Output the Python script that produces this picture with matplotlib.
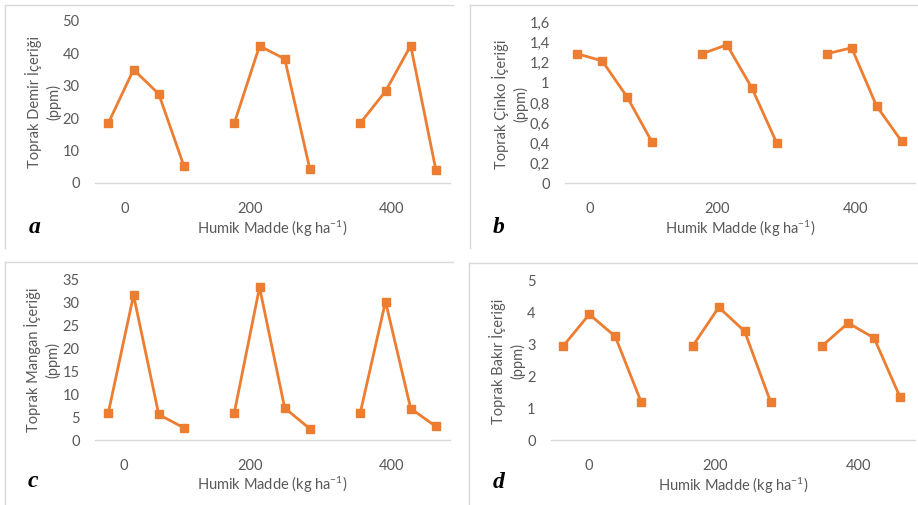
import matplotlib
matplotlib.use("Agg")
import matplotlib.pyplot as plt
from matplotlib.lines import Line2D

# ---------------- data ----------------
humik_levels = ["0", "200", "400"]
demir = [[18.5, 35.0, 27.5, 5.2], [18.5, 42.3, 38.3, 4.2], [18.5, 28.3, 42.4, 4.0]]
cinko = [[1.29, 1.22, 0.86, 0.41], [1.29, 1.38, 0.95, 0.40], [1.29, 1.35, 0.77, 0.42]]
mangan = [[6.0, 31.5, 5.6, 2.7], [6.0, 33.2, 7.0, 2.5], [6.0, 30.1, 6.9, 3.0]]
bakir = [[2.95, 3.93, 3.24, 1.20], [2.95, 4.15, 3.40, 1.20], [2.95, 3.66, 3.19, 1.35]]

demir_ticks = [0, 10, 20, 30, 40, 50]
cinko_ticks = [0, 0.2, 0.4, 0.6, 0.8, 1.0, 1.2, 1.4, 1.6]
cinko_ticklabels = ["0", "0,2", "0,4", "0,6", "0,8", "1", "1,2", "1,4", "1,6"]
mangan_ticks = [0, 5, 10, 15, 20, 25, 30, 35]
bakir_ticks = [0, 1, 2, 3, 4, 5]

ylabels = ["Toprak Demir İçeriği\n(ppm)", "Toprak Çinko İçeriği\n(ppm)",
           "Toprak Mangan İçeriği\n(ppm)", "Toprak Bakır İçeriği\n(ppm)"]
xlabel = "Humik Madde (kg ha$^{-1}$)"
letters = ["a", "b", "c", "d"]

# ---------------- style ----------------
W, H = 918, 505
FONT = "Lato"
plt.rcParams["font.family"] = [FONT, "DejaVu Sans"]
plt.rcParams["mathtext.fontset"] = "custom"
plt.rcParams["mathtext.rm"] = FONT
plt.rcParams["mathtext.it"] = FONT + ":italic"
plt.rcParams["mathtext.bf"] = FONT + ":bold"
plt.rcParams["mathtext.default"] = "rm"
ORANGE = "#ED7D31"
GRAY_TXT = "#595959"
GRAY_LINE = "#D9D9D9"
FS_TICK = 10.5
FS_LAB = 10.5

fig = plt.figure(figsize=(W / 100, H / 100), dpi=100)


def fx(px):
    return px / W


def fy(py):
    return 1 - py / H


# panel border lines (left + top visible)
borders = [
    ((5, 5), (5, 248), (453, 5)),
    ((470, 5), (470, 248), (918, 5)),
    ((5, 262), (5, 505), (453, 262)),
    ((469, 263), (469, 505), (918, 263)),
]
for (x0, y0), (xl, yl), (xt, yt) in borders:
    fig.add_artist(Line2D([fx(x0), fx(xl)], [fy(y0), fy(yl)], color=GRAY_LINE, lw=1.0))
    fig.add_artist(Line2D([fx(x0), fx(xt)], [fy(y0), fy(yt)], color=GRAY_LINE, lw=1.0))

panels = [
    dict(data=demir, ticks=demir_ticks, tl=[str(t) for t in demir_ticks],
         box=(95, 450, 21, 183), xlim=(-0.53, 13.56), xt=[0.66, 5.62, 11.24],
         yl=(43, 102), xly=229, let=(35, 233)),
    dict(data=cinko, ticks=cinko_ticks, tl=cinko_ticklabels,
         box=(565, 915, 22.7, 183.3), xlim=(-0.49, 13.54), xt=[0.51, 5.6, 11.15],
         yl=(510, 104), xly=229, let=(499, 233)),
    dict(data=mangan, ticks=mangan_ticks, tl=[str(t) for t in mangan_ticks],
         box=(95, 450, 279, 440.3), xlim=(-0.53, 13.56), xt=[0.62, 5.62, 11.24],
         yl=(42, 360), xly=485, let=(33, 487)),
    dict(data=bakir, ticks=bakir_ticks, tl=[str(t) for t in bakir_ticks],
         box=(551, 915, 280, 440.3), xlim=(-0.48, 13.58), xt=[0.99, 5.86, 11.39],
         yl=(507, 361), xly=486, let=(499, 488)),
]

for i, p in enumerate(panels):
    l, r, t, b = p["box"]
    ax = fig.add_axes([fx(l), fy(b), fx(r) - fx(l), fy(t) - fy(b)])
    ax.patch.set_alpha(0)
    for g, vals in enumerate(p["data"]):
        xs = [g * 5 + j for j in range(len(vals))]
        ax.plot(xs, vals, color=ORANGE, lw=2.0, marker="s", ms=5.2,
                markerfacecolor=ORANGE, markeredgecolor=ORANGE, clip_on=False,
                solid_joinstyle="round")
    ax.set_xlim(*p["xlim"])
    ax.set_ylim(p["ticks"][0], p["ticks"][-1])
    ax.set_yticks(p["ticks"], p["tl"])
    ax.set_xticks(p["xt"], humik_levels)
    for s in ["top", "right", "left"]:
        ax.spines[s].set_visible(False)
    ax.spines["bottom"].set_color(GRAY_LINE)
    ax.spines["bottom"].set_linewidth(1.0)
    ax.tick_params(axis="both", length=0, colors=GRAY_TXT, labelsize=FS_TICK)
    ax.tick_params(axis="y", pad=11)
    ax.tick_params(axis="x", pad=13.5)
    yx, yy = p["yl"]
    fig.text(fx(yx), fy(yy), ylabels[i], rotation=90, ha="center", va="center",
             color=GRAY_TXT, fontsize=FS_LAB, linespacing=1.4, multialignment="center")
    fig.text(fx((l + r) / 2), fy(p["xly"]), xlabel, ha="center", va="center",
             color=GRAY_TXT, fontsize=FS_LAB)
    lx, ly = p["let"]
    fig.text(fx(lx), fy(ly), letters[i], ha="center", va="baseline",
             fontsize=17, fontweight="bold", fontstyle="italic",
             family="Liberation Serif", color="black")

fig.savefig("out.png", dpi=100)
